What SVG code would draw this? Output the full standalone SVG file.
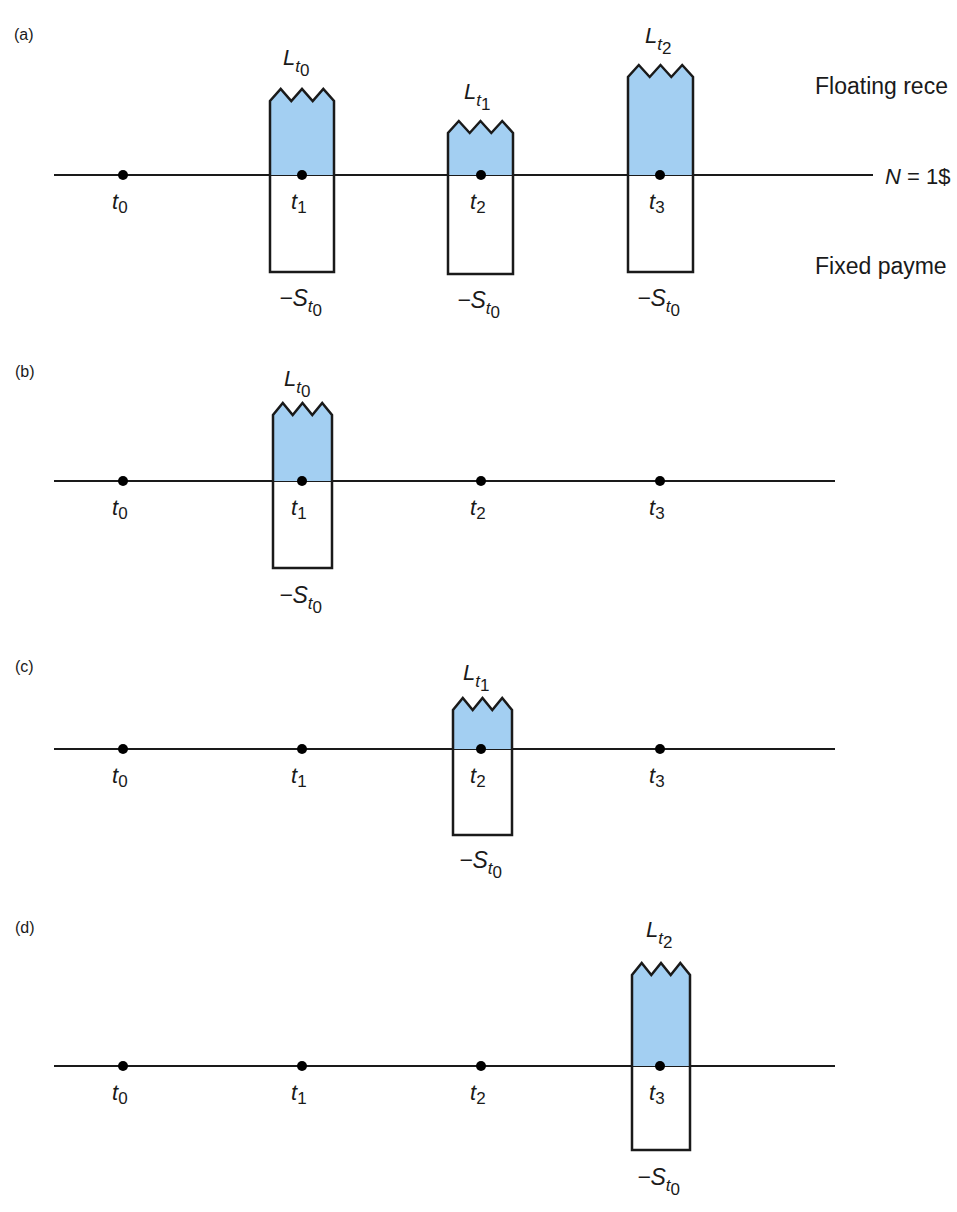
<svg xmlns="http://www.w3.org/2000/svg" width="957" height="1212" viewBox="0 0 957 1212">
<style>
text{font-family:"Liberation Sans",Arial,sans-serif;fill:#1a1a1a}
.pl{font-size:16px}
.tl{font-size:22px;font-style:italic}
.sl{font-size:23px;font-style:italic}
.sub{font-size:17px;font-style:normal}
.subt{font-size:17px;font-style:italic}
.side{font-size:23px}
.axis{stroke:#1a1a1a;stroke-width:2;fill:none}
.blue{fill:#a3cff2;stroke:none}
.box{fill:none;stroke:#1a1a1a;stroke-width:2.5;stroke-linejoin:miter}
.dot{fill:#000}
</style>

<g id="panel-labels">
<text class="pl" x="14" y="40">(a)</text>
<text class="pl" x="15" y="377">(b)</text>
<text class="pl" x="15" y="672">(c)</text>
<text class="pl" x="15" y="933">(d)</text>
</g>

<g id="connectors">
<line class="axis" x1="54" y1="175" x2="873" y2="175"/>
<line class="axis" x1="54" y1="481" x2="835" y2="481"/>
<line class="axis" x1="54" y1="749" x2="835" y2="749"/>
<line class="axis" x1="54" y1="1066" x2="835" y2="1066"/>
</g>

<g id="a-box1">
<path class="blue" d="M270,101 L280.7,89 L291.3,101 L302,89 L312.7,101 L323.3,89 L334,101 L334,175 L270,175 Z"/>
<path class="box" d="M270,175 L270,101 L280.7,89 L291.3,101 L302,89 L312.7,101 L323.3,89 L334,101 L334,272 L270,272 Z"/>
<text class="tl" x="283" y="65">L<tspan class="subt" dy="7">t</tspan><tspan class="sub" dy="4">0</tspan></text>
<text class="sl" x="279" y="306">−S<tspan class="subt" dy="6">t</tspan><tspan class="sub" dy="4">0</tspan></text>
</g>
<g id="a-box2">
<path class="blue" d="M448,133 L458.8,121 L469.7,133 L480.5,121 L491.3,133 L502.2,121 L513,133 L513,175 L448,175 Z"/>
<path class="box" d="M448,175 L448,133 L458.8,121 L469.7,133 L480.5,121 L491.3,133 L502.2,121 L513,133 L513,274 L448,274 Z"/>
<text class="tl" x="464" y="99">L<tspan class="subt" dy="7">t</tspan><tspan class="sub" dy="4">1</tspan></text>
<text class="sl" x="457" y="308">−S<tspan class="subt" dy="6">t</tspan><tspan class="sub" dy="4">0</tspan></text>
</g>
<g id="a-box3">
<path class="blue" d="M628,77 L638.8,65 L649.7,77 L660.5,65 L671.3,77 L682.2,65 L693,77 L693,175 L628,175 Z"/>
<path class="box" d="M628,175 L628,77 L638.8,65 L649.7,77 L660.5,65 L671.3,77 L682.2,65 L693,77 L693,272 L628,272 Z"/>
<text class="tl" x="645" y="43">L<tspan class="subt" dy="7">t</tspan><tspan class="sub" dy="4">2</tspan></text>
<text class="sl" x="637" y="306">−S<tspan class="subt" dy="6">t</tspan><tspan class="sub" dy="4">0</tspan></text>
</g>
<g id="a-dots">
<circle class="dot" cx="123" cy="175" r="5"/>
<circle class="dot" cx="302" cy="175" r="5"/>
<circle class="dot" cx="481" cy="175" r="5"/>
<circle class="dot" cx="660" cy="175" r="5"/>
<text class="tl" x="112" y="209">t<tspan class="sub" dy="4">0</tspan></text>
<text class="tl" x="291" y="209">t<tspan class="sub" dy="4">1</tspan></text>
<text class="tl" x="470" y="209">t<tspan class="sub" dy="4">2</tspan></text>
<text class="tl" x="649" y="209">t<tspan class="sub" dy="4">3</tspan></text>
</g>
<g id="a-side">
<text class="side" x="815" y="94">Floating rece</text>
<text class="tl" x="885" y="184">N<tspan style="font-style:normal"> = 1$</tspan></text>
<text class="side" x="815" y="274">Fixed payme</text>
</g>

<g id="b-box">
<path class="blue" d="M273,415 L282.8,403 L292.7,415 L302.5,403 L312.3,415 L322.2,403 L332,415 L332,481 L273,481 Z"/>
<path class="box" d="M273,481 L273,415 L282.8,403 L292.7,415 L302.5,403 L312.3,415 L322.2,403 L332,415 L332,568 L273,568 Z"/>
<text class="tl" x="284" y="386">L<tspan class="subt" dy="7">t</tspan><tspan class="sub" dy="4">0</tspan></text>
<text class="sl" x="279" y="603">−S<tspan class="subt" dy="6">t</tspan><tspan class="sub" dy="4">0</tspan></text>
</g>
<g id="b-dots">
<circle class="dot" cx="123" cy="481" r="5"/>
<circle class="dot" cx="302" cy="481" r="5"/>
<circle class="dot" cx="481" cy="481" r="5"/>
<circle class="dot" cx="660" cy="481" r="5"/>
<text class="tl" x="112" y="515">t<tspan class="sub" dy="4">0</tspan></text>
<text class="tl" x="291" y="515">t<tspan class="sub" dy="4">1</tspan></text>
<text class="tl" x="470" y="515">t<tspan class="sub" dy="4">2</tspan></text>
<text class="tl" x="649" y="515">t<tspan class="sub" dy="4">3</tspan></text>
</g>

<g id="c-box">
<path class="blue" d="M453,710 L462.8,698 L472.7,710 L482.5,698 L492.3,710 L502.2,698 L512,710 L512,749 L453,749 Z"/>
<path class="box" d="M453,749 L453,710 L462.8,698 L472.7,710 L482.5,698 L492.3,710 L502.2,698 L512,710 L512,835 L453,835 Z"/>
<text class="tl" x="463" y="680">L<tspan class="subt" dy="7">t</tspan><tspan class="sub" dy="4">1</tspan></text>
<text class="sl" x="459" y="868">−S<tspan class="subt" dy="6">t</tspan><tspan class="sub" dy="4">0</tspan></text>
</g>
<g id="c-dots">
<circle class="dot" cx="123" cy="749" r="5"/>
<circle class="dot" cx="302" cy="749" r="5"/>
<circle class="dot" cx="481" cy="749" r="5"/>
<circle class="dot" cx="660" cy="749" r="5"/>
<text class="tl" x="112" y="783">t<tspan class="sub" dy="4">0</tspan></text>
<text class="tl" x="291" y="783">t<tspan class="sub" dy="4">1</tspan></text>
<text class="tl" x="470" y="783">t<tspan class="sub" dy="4">2</tspan></text>
<text class="tl" x="649" y="783">t<tspan class="sub" dy="4">3</tspan></text>
</g>

<g id="d-box">
<path class="blue" d="M632,975 L641.7,963 L651.3,975 L661,963 L670.7,975 L680.3,963 L690,975 L690,1066 L632,1066 Z"/>
<path class="box" d="M632,1066 L632,975 L641.7,963 L651.3,975 L661,963 L670.7,975 L680.3,963 L690,975 L690,1150 L632,1150 Z"/>
<text class="tl" x="646" y="937">L<tspan class="subt" dy="7">t</tspan><tspan class="sub" dy="4">2</tspan></text>
<text class="sl" x="637" y="1185">−S<tspan class="subt" dy="6">t</tspan><tspan class="sub" dy="4">0</tspan></text>
</g>
<g id="d-dots">
<circle class="dot" cx="123" cy="1066" r="5"/>
<circle class="dot" cx="302" cy="1066" r="5"/>
<circle class="dot" cx="481" cy="1066" r="5"/>
<circle class="dot" cx="660" cy="1066" r="5"/>
<text class="tl" x="112" y="1100">t<tspan class="sub" dy="4">0</tspan></text>
<text class="tl" x="291" y="1100">t<tspan class="sub" dy="4">1</tspan></text>
<text class="tl" x="470" y="1100">t<tspan class="sub" dy="4">2</tspan></text>
<text class="tl" x="649" y="1100">t<tspan class="sub" dy="4">3</tspan></text>
</g>
</svg>
